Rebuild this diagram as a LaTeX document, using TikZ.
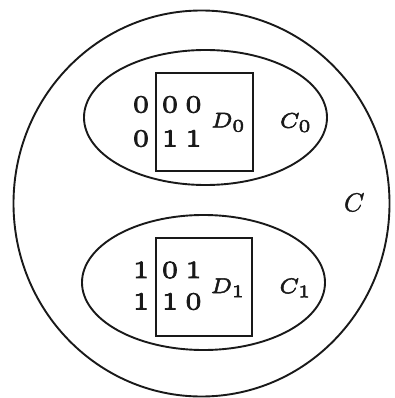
\documentclass[tikz,border=0pt]{standalone}
\usepackage{graphicx}
\usetikzlibrary{shapes.geometric}
\newcommand{\dig}[1]{\scalebox{4.95}{\fontsize{5}{6}\selectfont #1}}
\newcommand{\setlbl}[1]{\scalebox{3.55}{\fontsize{6}{7}\selectfont $#1$}}
\newcommand{\biglbl}[1]{\scalebox{2.6}{\fontsize{10}{12}\selectfont $#1$}}
\begin{document}
\begin{tikzpicture}[x=1pt,y=-1pt,
  line/.style={draw=black!90,line width=1.9pt},
  oval/.style={line,shape=ellipse,inner sep=0pt},
  sq/.style={line,shape=rectangle,inner sep=0pt},
  lbl/.style={inner sep=0pt,anchor=base,text=black!90,execute at begin node={\special{pdf:literal direct 2 Tr 0.14 w}},execute at end node={\special{pdf:literal direct 0 Tr}}}]
\useasboundingbox (0,0) rectangle (394,398);
% outer set C
\node[oval,minimum width=376pt,minimum height=386pt] (C) at (201.5,203.5) {};
% C0 and C1
\node[oval,minimum width=243pt,minimum height=135pt] (C0) at (205.5,117.5) {};
\node[oval,minimum width=243pt,minimum height=135pt] (C1) at (203.5,282.5) {};
% D0 and D1
\node[sq,minimum width=97pt,minimum height=98pt] (D0) at (204.5,122) {};
\node[sq,minimum width=96pt,minimum height=98pt] (D1) at (204,287) {};
% codewords of C0
\node[lbl] (a1) at (141,112.5) {\dig{0}};
\node[lbl] (a2) at (170,112.5) {\dig{0}};
\node[lbl] (a3) at (193.5,112.5) {\dig{0}};
\node[lbl] (b1) at (141,146.5) {\dig{0}};
\node[lbl] (b2) at (170,146.5) {\dig{1}};
\node[lbl] (b3) at (193.5,146.5) {\dig{1}};
% codewords of C1
\node[lbl] (c1) at (141,278) {\dig{1}};
\node[lbl] (c2) at (170,278) {\dig{0}};
\node[lbl] (c3) at (193.5,278) {\dig{1}};
\node[lbl] (d1) at (141,309.5) {\dig{1}};
\node[lbl] (d2) at (170,309.5) {\dig{1}};
\node[lbl] (d3) at (193.5,309.5) {\dig{0}};
% labels
\node[lbl] (lD0) at (228.5,127.5) {\setlbl{D_0}};
\node[lbl] (lC0) at (296,127.8) {\setlbl{C_0}};
\node[lbl] (lD1) at (228,293) {\setlbl{D_1}};
\node[lbl] (lC1) at (295.5,293.2) {\setlbl{C_1}};
\node[lbl] (lC) at (354.2,211.3) {\biglbl{C}};
\end{tikzpicture}
\end{document}
